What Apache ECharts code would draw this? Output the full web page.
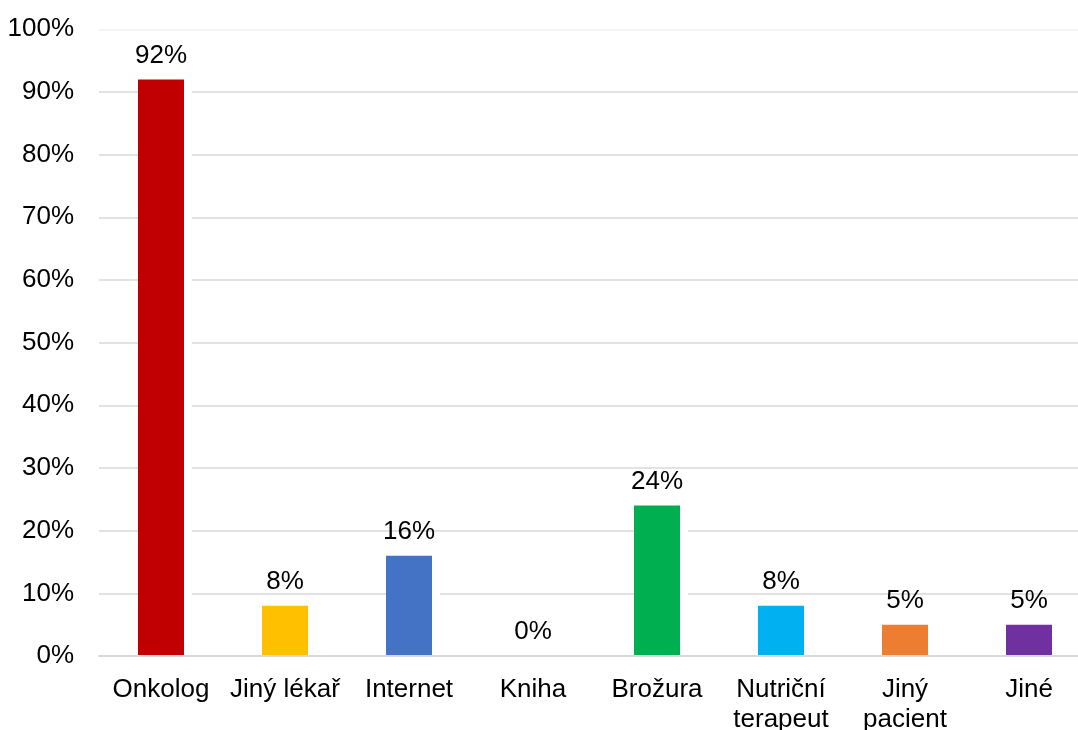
<!DOCTYPE html>
<html>
<head>
<meta charset="utf-8">
<script src="https://cdn.jsdelivr.net/npm/echarts@6/dist/echarts.min.js"></script>
<style>
  html, body { margin: 0; padding: 0; background: #fff; overflow: hidden; }
  #chart { width: 1078px; height: 730px; }
</style>
</head>
<body>
<div id="chart"></div>
<script>
// Zdroje informací – podíl respondentů (%)
const categories = ['Onkolog', 'Jiný lékař', 'Internet', 'Kniha', 'Brožura', 'Nutriční\nterapeut', 'Jiný\npacient', 'Jiné'];
const shares = [92, 8, 16, 0, 24, 8, 5, 5];
const yTicks = [0, 10, 20, 30, 40, 50, 60, 70, 80, 90, 100];

// bar fill per category
const palette = ['#C00000', '#FFC000', '#4472C4', '#A5A5A5', '#00B050', '#00B0F0', '#ED7D31', '#7030A0'];

const FONT = '"Liberation Sans", Arial, sans-serif';
const gridColors = yTicks.map((t, i) => i === yTicks.length - 1 ? '#efefef' : '#d9d9d9');

const chart = echarts.init(document.getElementById('chart'), null, { renderer: 'canvas' });
chart.setOption({
  animation: false,
  backgroundColor: '#fff',
  grid: {
    left: 99, top: 29.3, width: 992, height: 626.7,
    containLabel: false,
    outerBoundsMode: 'none'
  },
  xAxis: {
    type: 'category',
    data: categories,
    z: 5,
    axisLine: { show: true, lineStyle: { color: '#d9d9d9', width: 2 } },
    axisTick: { show: false },
    axisLabel: {
      interval: 0,
      margin: 19,
      color: '#000',
      fontFamily: FONT,
      fontSize: 26,
      lineHeight: 30
    }
  },
  yAxis: {
    type: 'value',
    min: yTicks[0],
    max: yTicks[yTicks.length - 1],
    interval: 10,
    axisLine: { show: false },
    axisTick: { show: false },
    splitLine: { show: true, lineStyle: { color: gridColors, width: 1.5 } },
    axisLabel: {
      margin: 25,
      padding: [4, 0, 0, 0],
      color: '#000',
      fontFamily: FONT,
      fontSize: 26,
      formatter: v => v + '%'
    }
  },
  series: [
    {
      // white halo that clears the gridlines beside each bar
      type: 'bar',
      data: shares,
      barWidth: 54,
      barGap: '-100%',
      itemStyle: { color: '#fff' },
      silent: true,
      z: 1
    },
    {
      type: 'bar',
      data: shares.map((v, i) => ({ value: v, itemStyle: { color: palette[i] } })),
      barWidth: 46,
      barGap: '-100%',
      z: 2,
      label: {
        show: true,
        position: 'top',
        distance: 11,
        color: '#000',
        fontFamily: FONT,
        fontSize: 26,
        formatter: p => p.value + '%'
      }
    }
  ]
});
</script>
</body>
</html>
